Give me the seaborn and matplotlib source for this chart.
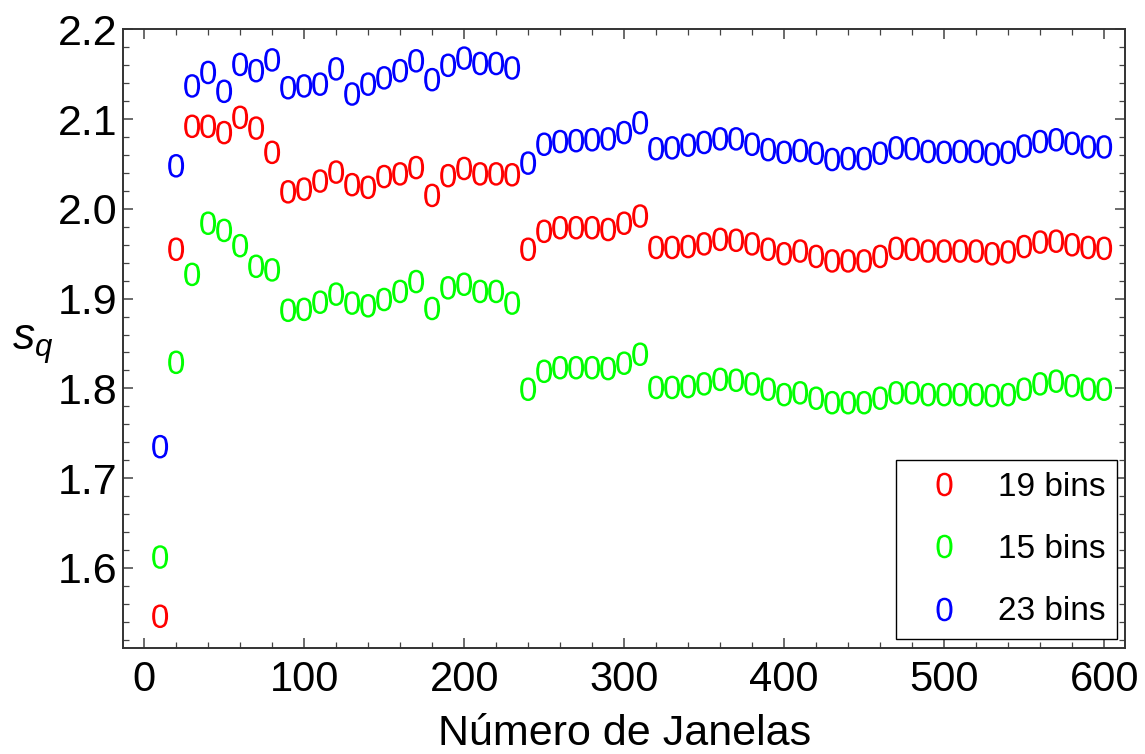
import numpy as np
import pandas as pd
import matplotlib
matplotlib.use("Agg")
import matplotlib.pyplot as plt
from matplotlib.lines import Line2D
from matplotlib.ticker import MultipleLocator, FormatStrFormatter
import seaborn as sns

# ---- data ----
janelas = [10, 20, 30, 40, 50, 60, 70, 80, 90, 100,
           110, 120, 130, 140, 150, 160, 170, 180, 190, 200,
           210, 220, 230, 240, 250, 260, 270, 280, 290, 300,
           310, 320, 330, 340, 350, 360, 370, 380, 390, 400,
           410, 420, 430, 440, 450, 460, 470, 480, 490, 500,
           510, 520, 530, 540, 550, 560, 570, 580, 590, 600]

sq_19 = [1.546, 1.955, 2.092, 2.092, 2.085, 2.102, 2.090, 2.063, 2.019, 2.022,
         2.031, 2.041, 2.027, 2.024, 2.036, 2.039, 2.046, 2.015, 2.037, 2.045,
         2.039, 2.039, 2.038, 1.955, 1.975, 1.979, 1.979, 1.979, 1.977, 1.984,
         1.992, 1.957, 1.957, 1.958, 1.961, 1.966, 1.965, 1.961, 1.955, 1.950,
         1.953, 1.947, 1.942, 1.942, 1.942, 1.947, 1.956, 1.955, 1.953, 1.953,
         1.953, 1.953, 1.950, 1.952, 1.958, 1.963, 1.964, 1.960, 1.957, 1.956]

sq_15 = [1.612, 1.829, 1.927, 1.984, 1.976, 1.959, 1.936, 1.932, 1.887, 1.888,
         1.896, 1.905, 1.895, 1.892, 1.899, 1.908, 1.919, 1.889, 1.912, 1.916,
         1.908, 1.908, 1.895, 1.799, 1.819, 1.823, 1.823, 1.823, 1.822, 1.828,
         1.838, 1.801, 1.801, 1.802, 1.805, 1.810, 1.809, 1.805, 1.799, 1.793,
         1.795, 1.789, 1.784, 1.784, 1.784, 1.789, 1.795, 1.795, 1.793, 1.793,
         1.793, 1.793, 1.792, 1.793, 1.799, 1.805, 1.808, 1.803, 1.799, 1.799]

sq_23 = [1.735, 2.048, 2.137, 2.152, 2.131, 2.161, 2.154, 2.166, 2.135, 2.137,
         2.139, 2.156, 2.128, 2.139, 2.146, 2.154, 2.165, 2.144, 2.160, 2.168,
         2.162, 2.162, 2.157, 2.051, 2.072, 2.075, 2.076, 2.077, 2.078, 2.085,
         2.096, 2.067, 2.068, 2.071, 2.074, 2.078, 2.078, 2.072, 2.066, 2.063,
         2.065, 2.062, 2.055, 2.056, 2.056, 2.062, 2.068, 2.067, 2.064, 2.063,
         2.064, 2.064, 2.061, 2.063, 2.070, 2.075, 2.077, 2.073, 2.069, 2.069]

series_labels = ["19 bins", "15 bins", "23 bins"]
series_colors = ["#FF0000", "#00FF00", "#0000FF"]

# ---- style ----
sns.set_theme(style="ticks")
plt.rcParams["font.family"] = ["Liberation Sans", "DejaVu Sans"]
plt.rcParams["mathtext.fontset"] = "custom"
plt.rcParams["mathtext.rm"] = "Liberation Sans"
plt.rcParams["mathtext.it"] = "Liberation Sans:italic"
plt.rcParams["mathtext.sf"] = "Liberation Sans"
plt.rcParams["text.color"] = "black"
plt.rcParams["axes.labelcolor"] = "black"

df = pd.DataFrame({
    "janelas": janelas * 3,
    "sq": sq_19 + sq_15 + sq_23,
    "serie": [series_labels[0]] * len(janelas)
             + [series_labels[1]] * len(janelas)
             + [series_labels[2]] * len(janelas),
})

fig = plt.figure(figsize=(11.45, 7.54), dpi=100)
ax = fig.add_axes([0.1077, 0.141, 0.8748, 0.8200])

marker_pt = 17.0
sns.scatterplot(data=df, x="janelas", y="sq", hue="serie",
                hue_order=series_labels, palette=series_colors,
                marker="$0$", s=marker_pt ** 2, linewidth=0,
                edgecolor="face", legend=False, ax=ax)

ax.set_xlim(-13, 613)
ax.set_ylim(1.511, 2.2)

ax.xaxis.set_major_locator(MultipleLocator(100))
ax.xaxis.set_minor_locator(MultipleLocator(20))
ax.yaxis.set_major_locator(MultipleLocator(0.1))
ax.yaxis.set_minor_locator(MultipleLocator(0.02))
ax.yaxis.set_major_formatter(FormatStrFormatter("%.1f"))

ax.tick_params(which="both", direction="in", top=True, right=True,
               colors="#444444", labelcolor="black")
ax.tick_params(which="major", length=7, width=1.1)
ax.tick_params(which="minor", length=4, width=0.9)
ax.tick_params(axis="x", which="major", labelsize=30, pad=9)
ax.tick_params(axis="y", which="major", labelsize=31, pad=4)
for sp in ax.spines.values():
    sp.set_visible(True)
    sp.set_color("#333333")
    sp.set_linewidth(1.4)

ax.set_xlabel("Número de Janelas", fontsize=31, labelpad=10)
ax.set_ylabel(r"$s_q$", fontsize=32, rotation=0, va="center")
ax.yaxis.set_label_coords(-0.09, 0.49)

handles = [Line2D([], [], linestyle="none", marker="$0$", markersize=marker_pt,
                  markeredgewidth=0, color=c) for c in series_colors]
leg = ax.legend(handles, series_labels, loc="lower right",
                bbox_to_anchor=(0.9921, 0.0141), fontsize=24,
                frameon=True, fancybox=False, framealpha=1,
                edgecolor="black", handlelength=2.2, handletextpad=0.5,
                labelspacing=0.94, borderpad=0.35, borderaxespad=0.0)
leg.get_frame().set_linewidth(1.0)

fig.savefig("out.png", dpi=100)
